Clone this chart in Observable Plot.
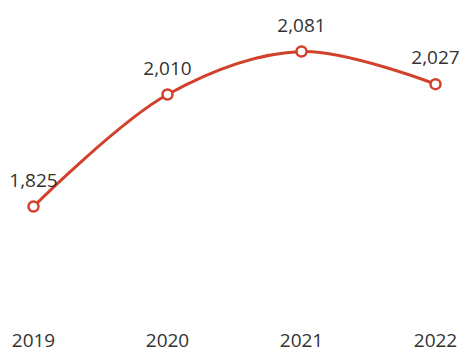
<!DOCTYPE html>
<html>
<head>
<meta charset="utf-8">
<script src="https://cdn.jsdelivr.net/npm/d3@7"></script>
<script src="https://cdn.jsdelivr.net/npm/@observablehq/plot@0.6"></script>
<style>
  html, body { margin: 0; padding: 0; background: #fff; }
  #chart svg { display: block; }
</style>
</head>
<body>
<div id="chart"></div>
<script>
const years = ["2019", "2020", "2021", "2022"];
const values = [1825, 2010, 2081, 2027];
const labels = ["1,825", "2,010", "2,081", "2,027"];

const data = years.map((y, i) => ({year: y, value: values[i], label: labels[i]}));
const red = "#d2412c";

const chart = Plot.plot({
  width: 465,
  height: 352,
  marginTop: 0,
  marginBottom: 22,
  marginLeft: 0,
  marginRight: 0,
  style: {fontFamily: "'Open Sans', sans-serif", fontSize: "19px", color: "#333", background: "#fff"},
  x: {type: "point", domain: years, range: [32, 435], padding: 0, label: null},
  y: {domain: [1825, 2081], range: [206, 51], axis: null},
  marks: [
    Plot.axisX({tickSize: 0, tickPadding: 3, fontSize: 19, fill: "#333", label: null}),
    Plot.line(data, {x: "year", y: "value", stroke: red, strokeWidth: 3, curve: "catmull-rom"}),
    Plot.dot(data, {x: "year", y: "value", r: 5, fill: "#fff", stroke: red, strokeWidth: 2.5}),
    Plot.text(data, {x: "year", y: "value", text: "label", dy: -26, fontSize: 19, fill: "#333"})
  ]
});
document.getElementById("chart").appendChild(chart);
</script>
</body>
</html>
